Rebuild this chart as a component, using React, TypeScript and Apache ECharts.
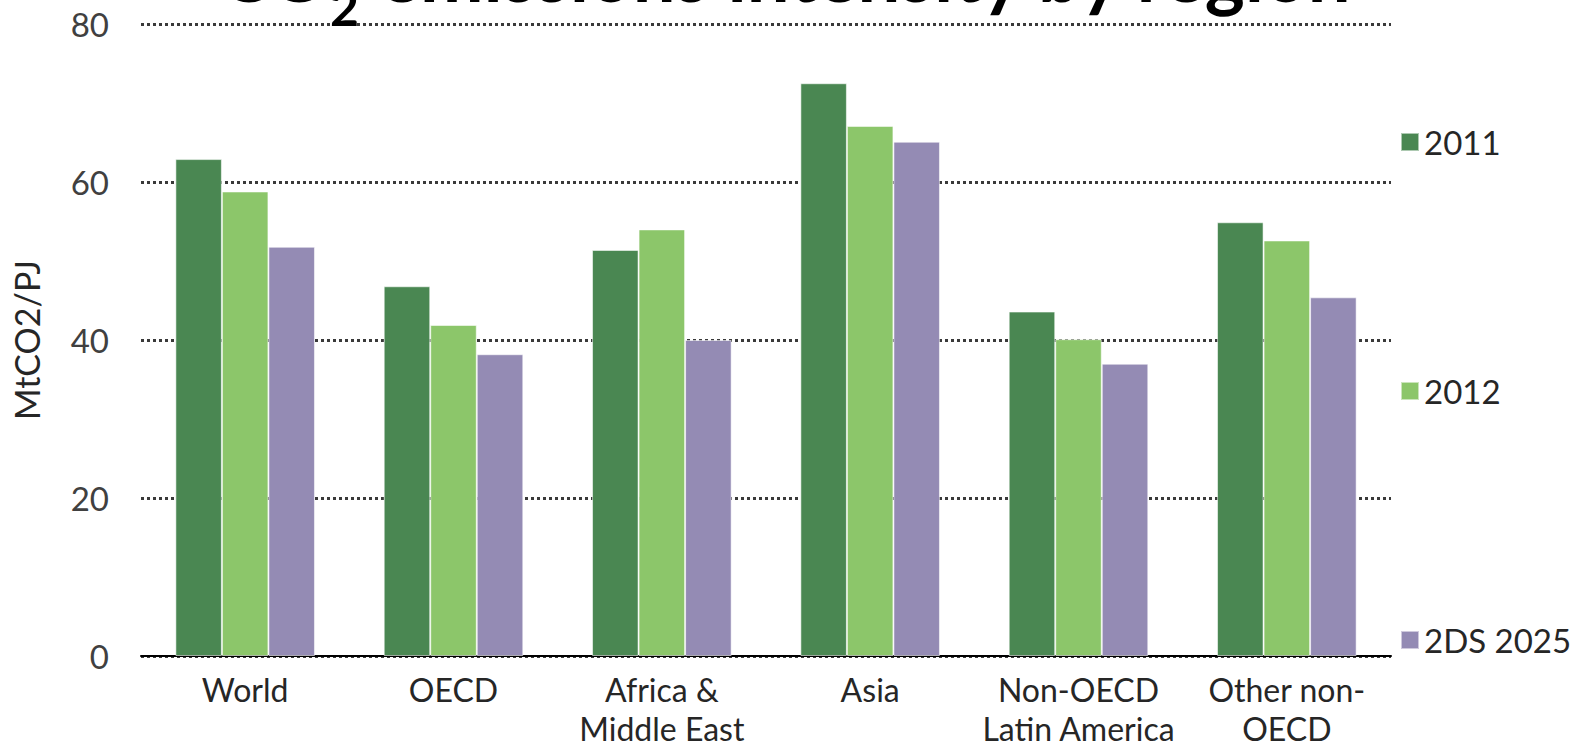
import React, { useEffect, useRef } from "react";
import * as echarts from "echarts";

const categories = [
  "World",
  "OECD",
  "Africa &\nMiddle East",
  "Asia",
  "Non-OECD\nLatin America",
  "Other non-\nOECD",
];
const seriesNames = ["2011", "2012", "2DS 2025"];
const values2011 = [62.9, 46.8, 51.4, 72.5, 43.6, 54.9];
const values2012 = [58.8, 41.9, 54.0, 67.1, 40.1, 52.6];
const values2DS2025 = [51.8, 38.2, 40.0, 65.1, 37.0, 45.4];
const colors = ["#4A8752", "#8CC66A", "#948BB4"];
const yMin = 0;
const yMax = 80;
const yInterval = 20;

const FONT = 'Lato, "Noto Sans", sans-serif';

export default function App() {
  const ref = useRef<HTMLDivElement>(null);
  useEffect(() => {
    if (!ref.current) return;
    const chart = echarts.init(ref.current, null, { renderer: "svg" });
    const barStyle = (c: string) => ({
      color: c,
      borderColor: "rgba(255,255,255,0.55)",
      borderWidth: 1,
    });
    const data = [values2011, values2012, values2DS2025];
    chart.setOption({
      animation: false,
      backgroundColor: "#ffffff",
      textStyle: { fontFamily: FONT },
      grid: {
        left: 141,
        right: 204,
        top: 24,
        bottom: 92,
        containLabel: false,
        outerBoundsMode: "none",
      },
      legend: {
        orient: "vertical",
        left: 1395,
        top: 119,
        itemWidth: 18,
        itemHeight: 18,
        itemGap: 213,
        icon: "rect",
        data: seriesNames,
        textStyle: {
          fontFamily: FONT,
          fontSize: 33,
          lineHeight: 36,
          color: "#262626",
        },
      },
      xAxis: {
        type: "category",
        data: categories,
        axisLine: { show: true, lineStyle: { color: "#000000", width: 2 } },
        axisTick: { show: false },
        axisLabel: {
          fontFamily: FONT,
          fontSize: 32,
          lineHeight: 39,
          color: "#262626",
          margin: 14,
          interval: 0,
        },
      },
      yAxis: {
        type: "value",
        min: yMin,
        max: yMax,
        interval: yInterval,
        name: "MtCO2/PJ",
        nameLocation: "middle",
        nameRotate: 90,
        nameGap: 98,
        nameTextStyle: {
          fontFamily: FONT,
          fontSize: 34,
          color: "#262626",
        },
        axisLine: { show: false },
        axisTick: { show: false },
        axisLabel: {
          fontFamily: FONT,
          fontSize: 33,
          color: "#404040",
          margin: 32,
        },
        splitLine: {
          show: true,
          lineStyle: { color: "#3a3a3a", width: 3, type: [3, 3] },
        },
      },
      graphic: [
        {
          type: "text",
          x: 786,
          y: -28,
          z: 100,
          style: {
            text: "{a|CO}{s|2}{a| emissions intensity by region}",
            align: "center",
            verticalAlign: "middle",
            fill: "#000000",
            rich: {
              a: {
                fontFamily: FONT,
                fontWeight: "bold",
                fontSize: 76,
                lineHeight: 90,
                fill: "#000000",
              },
              s: {
                fontFamily: FONT,
                fontWeight: "bold",
                fontSize: 50,
                lineHeight: 90,
                padding: [70, 0, 0, 0],
                fill: "#000000",
              },
            },
          },
        },
      ],
      series: seriesNames.map((n, i) => ({
        name: n,
        type: "bar",
        data: data[i],
        barGap: "0%",
        barCategoryGap: "33%",
        itemStyle: barStyle(colors[i]),
      })),
    });
    return () => chart.dispose();
  }, []);
  return (
    <div
      ref={ref}
      style={{
        position: "absolute",
        left: 0,
        top: 0,
        width: 1595,
        height: 748,
        background: "#fff",
      }}
    />
  );
}
